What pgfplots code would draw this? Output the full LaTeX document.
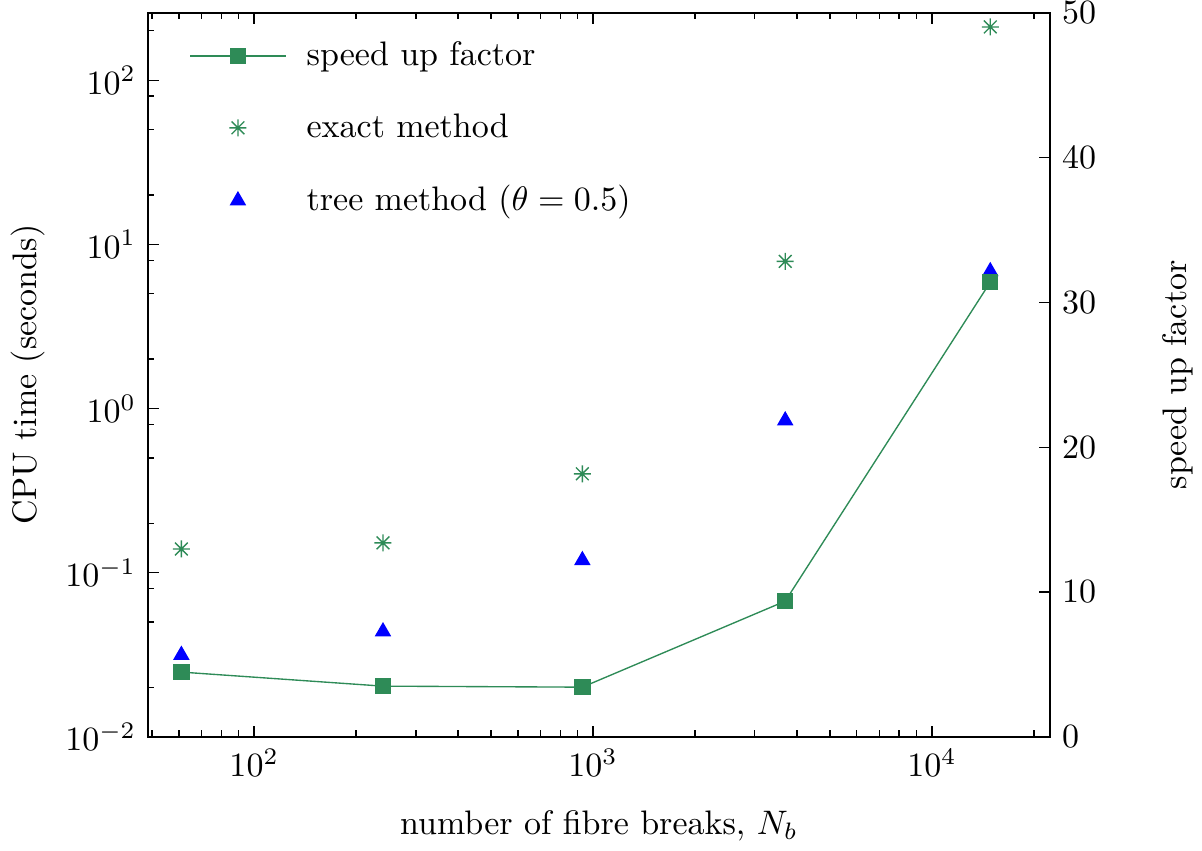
\documentclass[border=0pt]{standalone}
\usepackage{pgfplots}
\pgfplotsset{compat=1.18}
\definecolor{sg}{HTML}{2E8B57}
\pgfdeclareplotmark{ast8}{%
  \pgfpathmoveto{\pgfqpoint{-\pgfplotmarksize}{0pt}}\pgfpathlineto{\pgfqpoint{\pgfplotmarksize}{0pt}}%
  \pgfpathmoveto{\pgfqpoint{0pt}{-\pgfplotmarksize}}\pgfpathlineto{\pgfqpoint{0pt}{\pgfplotmarksize}}%
  \pgfpathmoveto{\pgfqpoint{-0.75\pgfplotmarksize}{-0.75\pgfplotmarksize}}\pgfpathlineto{\pgfqpoint{0.75\pgfplotmarksize}{0.75\pgfplotmarksize}}%
  \pgfpathmoveto{\pgfqpoint{-0.75\pgfplotmarksize}{0.75\pgfplotmarksize}}\pgfpathlineto{\pgfqpoint{0.75\pgfplotmarksize}{-0.75\pgfplotmarksize}}%
  \pgfusepathqstroke}
\begin{document}
\begin{tikzpicture}
\begin{axis}[
  scale only axis, width=265.3pt, height=212.9pt,
  xmode=log, ymode=log,
  xmin=48.6, xmax=22300, ymin=0.01, ymax=257,
  axis line style={line width=0.6pt},
  tick style={black, line width=0.4pt},
  major tick length=3.3pt, minor tick length=1.9pt,
  tick align=inside,
  xtick pos=both, ytick pos=left,
  xtick={100,1000,10000},
  minor xtick={50,60,70,80,90,200,300,400,500,600,700,800,900,2000,3000,4000,5000,6000,7000,8000,9000,20000},
  ytick={0.01,0.1,1,10,100},
  minor ytick={0.02,0.05,0.08,0.2,0.5,0.8,2,5,8,20,50,80,200},
  xlabel={number of fibre breaks, $N_b$},
  ylabel={CPU time (seconds)},
  every axis x label/.style={at={(axis description cs:0.5,-0.123)}, anchor=center},
  every axis y label/.style={at={(axis description cs:-0.133,0.5)}, rotate=90, anchor=center},
  legend style={draw=none, fill=none, at={(axis description cs:0.0455,0.971)}, anchor=north west, row sep=8.65pt, inner sep=0pt, column sep=0pt},
  legend cell align=left,
  legend image code/.code={\draw[mark=none,draw=none] (0pt,0pt) -- (28pt,0pt); \draw[only marks] plot coordinates {(14pt,0pt)};},
]
\addlegendimage{sg, line width=0.4pt, mark=square*, mark size=2.2pt,
  legend image code/.code={\draw[mark=none] (0pt,0pt) -- (28pt,0pt); \draw[only marks] plot coordinates {(14pt,0pt)};}}
\addlegendentry{\hspace{4pt}speed up factor}
\addplot[only marks, mark=ast8, sg, mark size=2.5pt, line width=0.4pt] coordinates {
(61,0.1395) (240,0.152) (930,0.40) (3690,7.88) (14860,211)};
\addlegendentry{\hspace{4pt}exact method}
\addplot[only marks, mark=triangle*, blue, mark size=2.4pt] coordinates {
(61,0.0315) (240,0.0438) (930,0.119) (3690,0.845) (14860,6.85)};
\addlegendentry{\hspace{4pt}tree method ($\theta=0.5$)}
\end{axis}
\begin{axis}[
  scale only axis, width=265.3pt, height=212.9pt,
  xmode=log, xmin=48.6, xmax=22300,
  hide x axis, axis y line*=right,
  ymin=0, ymax=50, ytick={0,10,20,30,40,50}, minor ytick={},
  axis line style={line width=0.6pt},
  tick style={black, line width=0.4pt},
  major tick length=3.3pt, tick align=inside,
  ylabel={speed up factor},
  every axis y label/.style={at={(axis description cs:1.142,0.5)}, rotate=90, anchor=center},
]
\addplot[sg, line width=0.4pt, mark=square*, mark size=2.2pt] coordinates {
(61,4.47) (240,3.50) (930,3.43) (3690,9.37) (14860,31.4)};
\end{axis}
\pgfresetboundingbox
\path ([xshift=-43.5pt,yshift=-33.5pt]current axis.south west) rectangle ([xshift=44.7pt,yshift=3.8pt]current axis.north east);
\end{tikzpicture}
\end{document}
